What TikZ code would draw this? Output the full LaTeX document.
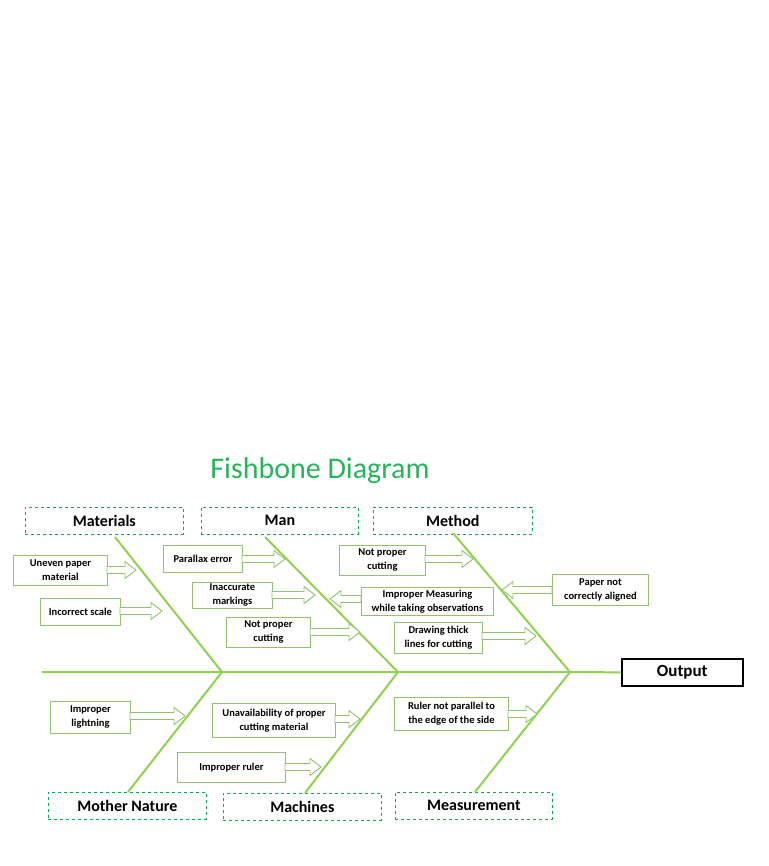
\documentclass[tikz,border=0pt]{standalone}
\usepackage{fontspec}
\setmainfont{Carlito}
\definecolor{bone}{RGB}{146,208,80}
\definecolor{dgreen}{RGB}{0,176,80}
\definecolor{lgreen}{RGB}{145,195,110}
\definecolor{ttl}{RGB}{40,180,90}
\newcommand\blkarrow[3]{% x1 x2 y
  \pgfmathsetmacro\hb{#2-11*sign(#2-#1)}
  \draw[lgreen,fill=white,line width=0.9pt] (#1,#3-3.5) -- (\hb,#3-3.5) -- (\hb,#3-8.5) -- (#2,#3) -- (\hb,#3+8.5) -- (\hb,#3+3.5) -- (#1,#3+3.5) -- cycle;}
\begin{document}
\begin{tikzpicture}[x=1pt,y=-1pt,
  cat/.style={draw=dgreen,dashed,line width=0.7pt,minimum height=27pt,inner sep=0pt,font=\bfseries\fontsize{16}{17}\selectfont,anchor=north west},
  cause/.style={draw=lgreen,line width=0.9pt,fill=white,inner sep=0pt,align=center,font=\bfseries\fontsize{10.5}{14}\selectfont,anchor=north west},
  bonel/.style={bone,line width=2pt}]
\useasboundingbox (0,0) rectangle (768,866);
\node[text=ttl,font=\fontsize{30}{31}\selectfont] (title) at (320,471) {Fishbone Diagram};
% spine
\node[draw=black,line width=1.5pt,minimum width=121pt,minimum height=27pt,inner sep=0pt,font=\bfseries\fontsize{17}{18}\selectfont,anchor=north west] (out) at (621,658) {Output};
\coordinate (tail) at (42,672);
\draw[bonel] (tail) -- (out.west);
% categories
\node[cat,minimum width=158pt] (mat) at (25,507) {Materials};
\node[cat,minimum width=157pt] (man) at (201,507) {Man};
\node[cat,minimum width=159pt] (met) at (373,507) {Method};
\node[cat,minimum width=158pt] (mn) at (48,792) {Mother Nature};
\node[cat,minimum width=158pt] (mac) at (223,793) {Machines};
\node[cat,minimum width=157pt] (mea) at (395,792) {Measurement};
% bones
\coordinate (j1) at (222,672); \coordinate (j2) at (398,672); \coordinate (j3) at (570,672);
\coordinate (b1) at (115,537); \coordinate (b2) at (265,537); \coordinate (b3) at (453,533);
\coordinate (c1) at (128,792); \coordinate (c2) at (305,793); \coordinate (c3) at (475,792);
\draw[bonel] (b1) -- (j1) -- (c1);
\draw[bonel] (b2) -- (j2) -- (c2);
\draw[bonel] (b3) -- (j3) -- (c3);
% causes
\node[cause,minimum width=94pt,minimum height=30pt] (u1) at (13,555) {Uneven paper\\material};
\blkarrow{107}{136}{570}
\node[cause,minimum width=80pt,minimum height=27pt] (u2) at (40,598) {Incorrect scale};
\blkarrow{120}{162}{611}
\node[cause,minimum width=79pt,minimum height=27pt] (m1) at (163,545) {Parallax error};
\blkarrow{242}{285}{559}
\node[cause,minimum width=80pt,minimum height=26pt] (m2) at (192,582) {Inaccurate\\markings};
\blkarrow{272}{315}{595}
\node[cause,minimum width=84pt,minimum height=30pt] (m3) at (226,617) {Not proper\\cutting};
\blkarrow{310}{360}{632}
\node[cause,minimum width=132pt,minimum height=28pt] (m4) at (361,587) {Improper Measuring\\while taking observations};
\blkarrow{361}{330}{599}
\node[cause,minimum width=86pt,minimum height=30pt] (t1) at (339,545) {Not proper\\cutting};
\blkarrow{425}{473}{559}
\node[cause,minimum width=96pt,minimum height=31pt] (t2) at (552,574) {Paper not\\correctly aligned};
\blkarrow{552}{502}{590}
\node[cause,minimum width=88pt,minimum height=31pt] (t3) at (394,622) {Drawing thick\\lines for cutting};
\blkarrow{482}{536}{636}
\node[cause,minimum width=80pt,minimum height=32pt] (n1) at (50,701) {Improper\\lightning};
\blkarrow{130}{185}{716}
\node[cause,minimum width=123pt,minimum height=34pt] (k1) at (212,703) {Unavailability of proper\\cutting material};
\blkarrow{335}{360}{719}
\node[cause,minimum width=108pt,minimum height=30pt] (k2) at (177,752) {Improper ruler};
\blkarrow{285}{321}{767}
\node[cause,minimum width=114pt,minimum height=33pt] (r1) at (394,697) {Ruler not parallel to\\the edge of the side};
\blkarrow{508}{537}{714}
\end{tikzpicture}
\end{document}
